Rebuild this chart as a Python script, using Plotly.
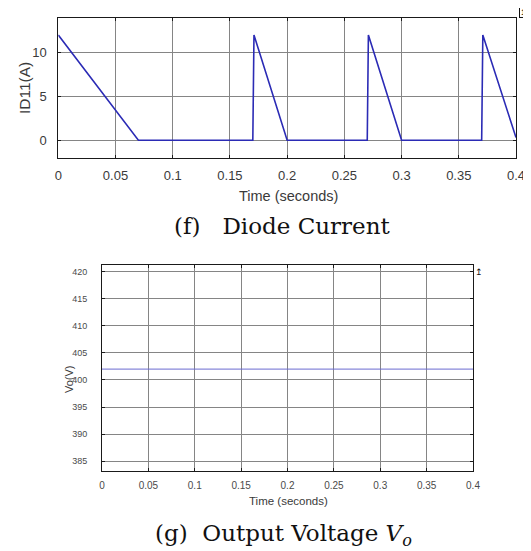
import plotly.graph_objects as go

# Diode current ID11 (A) vs time (s)
time_id = [0.0, 0.07, 0.17, 0.171, 0.2, 0.27, 0.271, 0.3, 0.37, 0.371, 0.4]
id11 = [12.0, 0.0, 0.0, 12.0, 0.0, 0.0, 12.0, 0.0, 0.0, 12.0, 0.3]

# Output voltage Vo (V) vs time (s)
time_vo = [0.0, 0.1, 0.2, 0.3, 0.4]
vo = [402.0, 402.0, 402.0, 402.0, 402.0]

x_ticks = [0, 0.05, 0.1, 0.15, 0.2, 0.25, 0.3, 0.35, 0.4]
x_tick_text = ["0", "0.05", "0.1", "0.15", "0.2", "0.25", "0.3", "0.35", "0.4"]
id_ticks = [0, 5, 10]
vo_ticks = [385, 390, 395, 400, 405, 410, 415, 420]

# page body has an 8px margin; figure fills the rest of the 531x551 window
OFF = 8
W, H = 531 - OFF, 551 - OFF
def px(x): return (x - OFF) / W
def py(y): return 1 - (y - OFF) / H

fig = go.Figure()
fig.add_trace(go.Scatter(x=time_id, y=id11, mode="lines",
                         line=dict(color="#2b2bb5", width=1.6),
                         xaxis="x", yaxis="y", showlegend=False))
fig.add_trace(go.Scatter(x=time_vo, y=vo, mode="lines",
                         line=dict(color="#6b6bd0", width=1),
                         xaxis="x2", yaxis="y2", showlegend=False))

axis_common = dict(showline=True, linecolor="#1a1a1a", linewidth=1, mirror="ticks",
                   ticks="inside", ticklen=3, tickcolor="#1a1a1a", automargin=False,
                   showgrid=True, gridcolor="#858585", gridwidth=1, zeroline=False)

fig.update_layout(
    width=W, height=H,
    margin=dict(l=0, r=0, t=0, b=0),
    paper_bgcolor="white", plot_bgcolor="white",
    xaxis=dict(domain=[px(58.3), px(516)], anchor="y", range=[0, 0.4],
               tickvals=x_ticks, ticktext=x_tick_text,
               tickfont=dict(family="Liberation Sans", size=13, color="#3a3a3a"),
               ticklabelstandoff=6, **axis_common),
    yaxis=dict(domain=[py(157.7), py(17.5)], anchor="x", range=[-2, 14],
               tickvals=id_ticks,
               tickfont=dict(family="Liberation Sans", size=13, color="#3a3a3a"),
               ticklabelstandoff=8, **axis_common),
    xaxis2=dict(domain=[px(102), px(473)], anchor="y2", range=[0, 0.4],
                tickvals=x_ticks, ticktext=x_tick_text,
                tickfont=dict(family="Liberation Sans", size=10, color="#4a4a4a"),
                ticklabelstandoff=5, **axis_common),
    yaxis2=dict(domain=[py(471), py(264.5)], anchor="x2", range=[383.2, 421.3],
                tickvals=vo_ticks,
                tickfont=dict(family="Liberation Sans", size=9, color="#4a4a4a"),
                ticklabelstandoff=12, **axis_common),
)

def label(x, y, text, size, angle=0, family="Liberation Sans", color="#3a3a3a"):
    fig.add_annotation(x=px(x), y=py(y), xref="paper", yref="paper", text=text,
                       showarrow=False, xanchor="center", yanchor="middle", textangle=angle,
                       font=dict(family=family, size=size, color=color))

# axis titles
label(288, 196, "Time (seconds)", 14.5)
label(24, 88, "ID11(A)", 15.5, angle=-90)
label(288, 500.5, "Time (seconds)", 11.5)
label(69, 379, "Vo(V)", 11, angle=-90)

# captions
label(282.5, 226, "(f)\u00a0\u00a0\u00a0Diode Current", 23, family="DejaVu Serif", color="#111111")
label(283, 535, "(g)\u00a0\u00a0Output Voltage <i>V</i><sub><i>o</i></sub>", 23,
      family="DejaVu Serif", color="#111111")

# small scope icons at top-right corners
fig.add_annotation(x=px(523), y=py(13), xref="paper", yref="paper", text="\u21a5",
                   showarrow=False, xanchor="center", yanchor="middle",
                   font=dict(family="DejaVu Sans", size=8, color="#111111"),
                   bordercolor="#111111", borderwidth=1, borderpad=0)
fig.add_annotation(x=px(479), y=py(272), xref="paper", yref="paper", text="\u21a5",
                   showarrow=False, xanchor="center", yanchor="middle",
                   font=dict(family="DejaVu Sans", size=9, color="#111111"))

fig.write_html("out.html")
